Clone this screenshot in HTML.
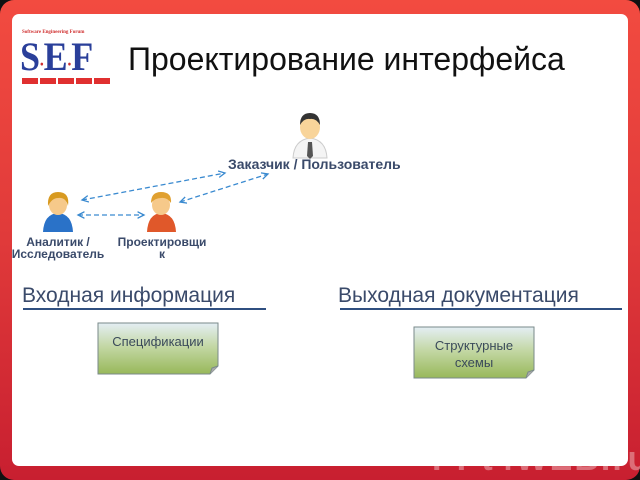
<!DOCTYPE html>
<html><head><meta charset="utf-8"><style>
html,body{margin:0;padding:0;}
body{width:640px;height:480px;overflow:hidden;background:#111;position:relative;font-family:"Liberation Sans",sans-serif;}
.frame{position:absolute;left:0;top:0;width:640px;height:480px;border-radius:14px;background:linear-gradient(#f24b40,#e03a3a 50%,#c81f30);}
.panel{position:absolute;left:12px;top:14px;width:616px;height:452px;background:#fff;border-radius:7px;}
.abs{position:absolute;white-space:nowrap;}
</style></head><body>
<div class="frame"></div>
<div class="panel"></div>
<div class="abs" style="left:22px;top:30px;font:bold 5px 'Liberation Serif',serif;color:#d03030;">Software Engineering Forum</div>
<div class="abs" style="left:20px;top:33px;font:bold 40px 'Liberation Serif',serif;color:#2a3f9a;letter-spacing:-1px;transform:scaleX(0.9);transform-origin:left;">S<span style="color:#d03030;font-size:18px">·</span>E<span style="color:#d03030;font-size:18px">·</span>F</div>
<div class="abs" style="left:22px;top:78px;width:88px;height:6px;background:repeating-linear-gradient(90deg,#e03030 0 16px,#fff 16px 18px);"></div>
<div class="abs" style="left:128px;top:41px;font-size:32px;color:#111;">Проектирование интерфейса</div>
<svg class="abs" style="left:0;top:0" width="640" height="480">
<defs>
<marker id="a" markerWidth="6" markerHeight="6" refX="5" refY="3" orient="auto-start-reverse"><path d="M0,0.5 L5,3 L0,5.5" fill="none" stroke="#3a8ad0" stroke-width="1"/></marker>
<linearGradient id="g" x1="0" y1="0" x2="0" y2="1"><stop offset="0" stop-color="#e4eef4"/><stop offset="0.45" stop-color="#c4d8a6"/><stop offset="1" stop-color="#98b85a"/></linearGradient>
</defs>
<g stroke="#3a8ad0" stroke-width="1.3" stroke-dasharray="5,3" fill="none">
<line x1="82" y1="200" x2="225" y2="173" marker-start="url(#a)" marker-end="url(#a)"/>
<line x1="180" y1="202" x2="268" y2="174" marker-start="url(#a)" marker-end="url(#a)"/>
<line x1="78" y1="215" x2="144" y2="215" marker-start="url(#a)" marker-end="url(#a)"/>
</g>
<path d="M293,158 Q294,140 310,138 Q326,140 327,158 Z" fill="#f4f4f4" stroke="#ccc"/>
<path d="M308,142 L312,142 L313,156 L310,159 L307,156 Z" fill="#555"/>
<ellipse cx="310" cy="127" rx="10" ry="12" fill="#f8d49a"/>
<path d="M300,125 Q300,113 310,113 Q320,113 320,125 Q316,118 310,119 Q304,118 300,125Z" fill="#333"/>
<path d="M43,232 Q44,214 58,213 Q72,214 73,232 Z" fill="#2a72c8"/>
<ellipse cx="58" cy="205" rx="9" ry="10" fill="#f6c98a"/>
<path d="M48,206 Q47,192 58,192 Q70,192 68,206 Q66,197 58,198 Q52,198 48,206Z" fill="#d89a20"/>
<path d="M147,232 Q148,214 161,213 Q175,214 176,232 Z" fill="#e0582a"/>
<ellipse cx="161" cy="205" rx="9" ry="10" fill="#f6c98a"/>
<path d="M151,203 Q151,192 161,192 Q172,192 171,203 Q167,197 161,198 Q155,198 151,203Z" fill="#e0a030"/>
<path d="M98,323 H218 V366 L210,374 H98 Z" fill="url(#g)" stroke="#7a8a8a"/>
<path d="M210,374 L212,368 L218,366" fill="#aaa" stroke="#7a8a8a"/>
<path d="M414,327 H534 V370 L526,378 H414 Z" fill="url(#g)" stroke="#7a8a8a"/>
<path d="M526,378 L528,372 L534,370" fill="#aaa" stroke="#7a8a8a"/>
<line x1="23" y1="309" x2="266" y2="309" stroke="#2f4f80" stroke-width="2"/>
<line x1="340" y1="309" x2="622" y2="309" stroke="#2f4f80" stroke-width="2"/>
</svg>
<div class="abs" style="left:228px;top:156px;font-weight:bold;font-size:14px;color:#3a4a6a;">Заказчик / Пользователь</div>
<div class="abs" style="left:0;top:236px;width:116px;text-align:center;font-weight:bold;font-size:12px;line-height:12px;color:#3a4a6a;">Аналитик /<br>Исследователь</div>
<div class="abs" style="left:110px;top:236px;width:104px;text-align:center;font-weight:bold;font-size:12px;line-height:12px;color:#3a4a6a;">Проектировщи<br>к</div>
<div class="abs" style="left:22px;top:284px;font-size:21px;color:#3a4a6a;">Входная информация</div>
<div class="abs" style="left:338px;top:284px;font-size:21px;color:#3a4a6a;">Выходная документация</div>
<div class="abs" style="left:98px;top:334px;width:120px;text-align:center;font-size:13px;color:#3a4a5a;">Спецификации</div>
<div class="abs" style="left:414px;top:337px;width:120px;text-align:center;font-size:13px;line-height:17px;color:#3a4a5a;">Структурные<br>схемы</div>
<div class="abs" style="left:432px;top:440px;font-weight:bold;font-size:34px;color:rgba(255,255,255,0.35);letter-spacing:2px;">PPt4WEB.ru</div>
</body></html>
